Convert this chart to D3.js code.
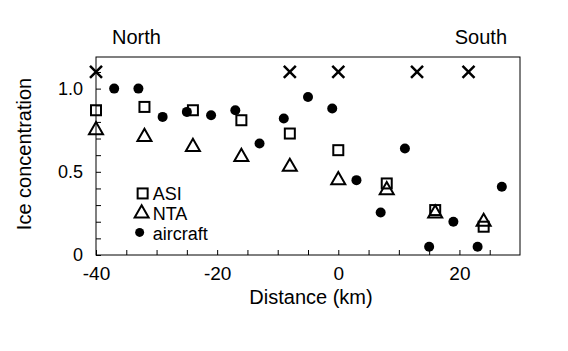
<!DOCTYPE html>
<html>
<head>
<meta charset="utf-8">
<script src="https://cdn.jsdelivr.net/npm/d3@7"></script>
<style>
  body { margin: 0; background: #fff; }
</style>
</head>
<body>
<div id="chart"></div>
<script>
// distances (km) and concentrations
const satDist = [-40, -32, -24, -16, -8, 0, 8, 16, 24];
const asiConc = [0.87, 0.89, 0.87, 0.81, 0.73, 0.63, 0.43, 0.27, 0.17];
const ntaConc = [0.75, 0.71, 0.65, 0.59, 0.53, 0.45, 0.39, 0.25, 0.20];

const airDist = [-37, -33, -29, -25, -21, -17, -13, -9, -5, -1, 3, 7, 11, 15, 19, 23, 27];
const airConc = [1.0, 1.0, 0.83, 0.86, 0.84, 0.87, 0.67, 0.82, 0.95, 0.88, 0.45, 0.255, 0.64, 0.05, 0.2, 0.05, 0.41];

const crossDist = [-40, -8, 0, 13, 21.5];
const crossConc = [1.1, 1.1, 1.1, 1.1, 1.1];

const xTickLabels = [-40, -20, 0, 20];
const yTickLabels = [0, 0.5, 1.0];

const width = 568, height = 351;
const margin = { top: 57, right: 48, bottom: 96, left: 96 };
const w = width - margin.left - margin.right;
const h = height - margin.top - margin.bottom;

const svg = d3.select("#chart").append("svg")
    .attr("width", width)
    .attr("height", height)
    .style("font-family", "'Liberation Sans', Arial, sans-serif");

const g = svg.append("g")
    .attr("transform", `translate(${margin.left},${margin.top})`);

const x = d3.scaleLinear().domain([-40, 30]).range([0, w]);
const y = d3.scaleLinear().domain([0, 1.19]).range([h, 0]);

// frame
g.append("rect")
    .attr("width", w).attr("height", h)
    .attr("fill", "none").attr("stroke", "#000").attr("stroke-width", 1);

const xAxis = d3.axisBottom(x)
    .tickValues(d3.range(-40, 30, 5))
    .tickSize(-5)
    .tickPadding(12)
    .tickFormat(d => xTickLabels.includes(d) ? d : "");

g.append("g")
    .attr("transform", `translate(0,${h})`)
    .call(xAxis)
    .call(a => a.select(".domain").remove())
    .selectAll("text")
    .attr("font-size", "19px")
    .attr("fill", "#000");

const yAxis = d3.axisLeft(y)
    .tickValues(d3.range(0, 1.15, 0.1).map(v => Math.round(v * 10) / 10))
    .tickSize(-5)
    .tickPadding(13)
    .tickFormat(d => d === 0 ? "0" : (yTickLabels.includes(d) ? d.toFixed(1) : ""));

g.append("g")
    .call(yAxis)
    .call(a => a.select(".domain").remove())
    .selectAll("text")
    .attr("font-size", "18px")
    .attr("fill", "#000");

g.selectAll(".tick line").attr("stroke", "#000");

// ASI squares
g.selectAll(".asi")
    .data(satDist.map((d, i) => ({ d, v: asiConc[i] })))
    .enter().append("rect")
    .attr("class", "asi")
    .attr("x", p => x(p.d) - 5)
    .attr("y", p => y(p.v) - 5)
    .attr("width", 10).attr("height", 10)
    .attr("fill", "none").attr("stroke", "#000").attr("stroke-width", 2);

// NTA triangles
const tri = d3.symbol().type(d3.symbolTriangle).size(85);
g.selectAll(".nta")
    .data(satDist.map((d, i) => ({ d, v: ntaConc[i] })))
    .enter().append("path")
    .attr("class", "nta")
    .attr("d", tri)
    .attr("transform", p => `translate(${x(p.d)},${y(p.v)})`)
    .attr("fill", "none").attr("stroke", "#000").attr("stroke-width", 2);

// aircraft dots
g.selectAll(".air")
    .data(airDist.map((d, i) => ({ d, v: airConc[i] })))
    .enter().append("circle")
    .attr("class", "air")
    .attr("cx", p => x(p.d))
    .attr("cy", p => y(p.v))
    .attr("r", 5)
    .attr("fill", "#000");

// crosses
g.selectAll(".cross")
    .data(crossDist.map((d, i) => ({ d, v: crossConc[i] })))
    .enter().append("path")
    .attr("class", "cross")
    .attr("d", "M-6,-6L6,6M-6,6L6,-6")
    .attr("transform", p => `translate(${x(p.d)},${y(p.v)})`)
    .attr("fill", "none").attr("stroke", "#000").attr("stroke-width", 2.5);

// legend
const legend = g.append("g").attr("transform", `translate(${x(-32.3)},${y(0.37)})`);
legend.append("rect")
    .attr("x", -5).attr("y", -5).attr("width", 10).attr("height", 10)
    .attr("fill", "none").attr("stroke", "#000").attr("stroke-width", 2);
legend.append("path")
    .attr("d", tri)
    .attr("transform", "translate(-1,20)")
    .attr("fill", "none").attr("stroke", "#000").attr("stroke-width", 2);
legend.append("circle")
    .attr("cx", -3).attr("cy", 39).attr("r", 4.5).attr("fill", "#000");
legend.selectAll("text")
    .data(["ASI", "NTA", "aircraft"])
    .enter().append("text")
    .attr("x", 10)
    .attr("y", (d, i) => i * 20 + 7)
    .attr("font-size", "18px")
    .text(d => d);

// region labels
svg.append("text")
    .attr("x", 112).attr("y", 44)
    .attr("font-size", "20px")
    .text("North");
svg.append("text")
    .attr("x", 507).attr("y", 44)
    .attr("text-anchor", "end")
    .attr("font-size", "20px")
    .text("South");

// axis titles
svg.append("text")
    .attr("x", margin.left + w / 2 + 3)
    .attr("y", 304)
    .attr("text-anchor", "middle")
    .attr("font-size", "20px")
    .text("Distance (km)");

svg.append("text")
    .attr("transform", `translate(31,${margin.top + h / 2 - 2}) rotate(-90)`)
    .attr("text-anchor", "middle")
    .attr("font-size", "20px")
    .text("Ice concentration");
</script>
</body>
</html>
